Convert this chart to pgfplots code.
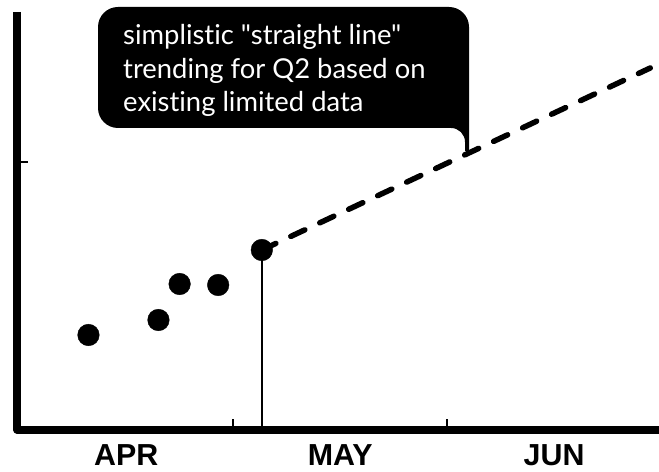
\documentclass[border=0pt]{standalone}
\usepackage{pgfplots}
\pgfplotsset{compat=1.18}
\usepackage{fontspec}
\setmainfont{Lato}[Ligatures={TeXOff,NoCommon}]
\newfontfamily\labfont{Liberation Sans}
\begin{document}
\begin{tikzpicture}
\useasboundingbox (0,0) rectangle (659bp,472bp);
\begin{axis}[
  at={(17bp,42bp)}, anchor=south west,
  scale only axis, width=642bp, height=418bp,
  xmin=-0.01, xmax=2.99, ymin=0, ymax=418,
  axis lines=left, axis line style={draw=none},
  clip=false,
  tick align=inside,
  major tick length=11bp,
  tick style={line width=2.2bp, black},
  xtick={1,2}, xticklabels={},
  ytick={268}, yticklabels={},
  extra x ticks={0.5,1.5,2.5},
  extra x tick labels={APR,MAY,JUN},
  extra x tick style={major tick length=0pt,
    xticklabel style={anchor=base, yshift=-35bp,
      font=\labfont\bfseries\fontsize{30.5}{30.5}\selectfont}},
  extra y ticks={65}, extra y tick labels={},
  extra y tick style={major tick length=4bp},
]
\draw[line width=7bp, line join=round] (axis cs:-0.01,418) -- (axis cs:-0.01,0) -- (axis cs:2.99,0);
\addplot[black, line width=2.4bp] coordinates {(1.134,0) (1.134,180)};
\addplot[black, line width=5.5bp, line cap=round, dash pattern=on 15.5bp off 16.5bp] coordinates {(1.134,180) (2.949,362)};
\addplot[only marks, mark=*, mark size=10.8bp, black] coordinates {(0.324,95) (0.651,110) (0.750,146) (0.930,145) (1.134,180)};
\end{axis}
\fill[black] (449bp,465bp) arc[start angle=90, end angle=0, radius=20bp]
  -- (469bp,321bp) -- (465bp,321bp) -- (465bp,330bp)
  arc[start angle=0, end angle=90, radius=14bp]
  -- (118bp,344bp) arc[start angle=270, end angle=180, radius=20bp]
  -- (98bp,445bp) arc[start angle=180, end angle=90, radius=20bp] -- cycle;
\begin{scope}[every node/.style={anchor=base west, inner sep=0pt, text=white, font=\fontsize{27.5}{30}\selectfont}]
\node at (123bp,427bp) {simplistic "straight line"};
\node at (123bp,393bp) {trending for Q2 based on};
\node at (123bp,360bp) {existing limited data};
\end{scope}
\end{tikzpicture}
\end{document}
